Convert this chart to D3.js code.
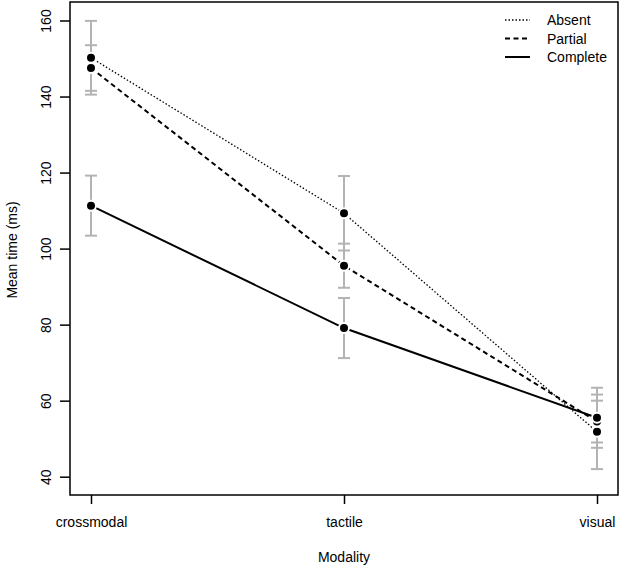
<!DOCTYPE html>
<html><head><meta charset="utf-8">
<script src="https://cdn.jsdelivr.net/npm/d3@7"></script>
<style>body{margin:0;background:#fff}svg{display:block;font-family:"Liberation Sans",Arial,sans-serif}</style>
</head><body>
<svg id="c" width="620" height="569"></svg>
<script>
const categories = ["crossmodal","tactile","visual"];
const seriesNames = ["Absent","Partial","Complete"];
const absentMean = [150.2,109.3,51.8];
const absentSE   = [9.7,9.8,9.8];
const partialMean = [147.5,95.5,54.5];
const partialSE   = [6.0,5.8,5.5];
const completeMean = [111.3,79.1,55.5];
const completeSE   = [7.9,7.9,7.9];
const yTicks = [40,60,80,100,120,140,160];

const series = [
  {name:"Absent", mean:absentMean, se:absentSE, dash:"1.5,2", width:1.3},
  {name:"Partial", mean:partialMean, se:partialSE, dash:"5,3.5", width:2},
  {name:"Complete", mean:completeMean, se:completeSE, dash:null, width:2}
];

const svg = d3.select("#c");
const L=70, R=618, T=2, B=495;
const x = d3.scalePoint().domain(categories).range([91,597]);
const y = d3.scaleLinear().domain([40,160]).range([476.7,20.5]);

svg.append("rect").attr("x",L).attr("y",T).attr("width",R-L).attr("height",B-T)
  .attr("fill","none").attr("stroke","#000").attr("stroke-width",1.5);

const ya = svg.append("g").attr("transform",`translate(${L},0)`)
  .call(d3.axisLeft(y).tickValues(yTicks).tickSize(10).tickSizeOuter(0));
ya.select(".domain").remove();
ya.selectAll("line").attr("stroke-width",1.5);
ya.selectAll("text").attr("font-size",14).attr("fill","#000")
  .attr("x",0).attr("y",0).attr("dy",null)
  .attr("text-anchor","middle")
  .attr("transform","translate(-19,0) rotate(-90)");

const xa = svg.append("g").attr("transform",`translate(0,${B})`)
  .call(d3.axisBottom(x).tickSize(9).tickSizeOuter(0));
xa.select(".domain").remove();
xa.selectAll("line").attr("stroke-width",1.5);
xa.selectAll("text").attr("font-size",14).attr("fill","#000").attr("y",22);

svg.append("text").attr("x",344).attr("y",562).attr("text-anchor","middle").attr("font-size",14).text("Modality");
svg.append("text").attr("transform","translate(17,250) rotate(-90)").attr("text-anchor","middle").attr("font-size",14).text("Mean time (ms)");

// error bars
const eb = svg.append("g").attr("stroke","#b3b3b3").attr("stroke-width",2);
series.forEach(s=>{
  categories.forEach((c,i)=>{
    const cx=x(c), lo=y(s.mean[i]-s.se[i]), hi=y(s.mean[i]+s.se[i]);
    eb.append("line").attr("x1",cx).attr("x2",cx).attr("y1",lo).attr("y2",hi);
    eb.append("line").attr("x1",cx-6).attr("x2",cx+6).attr("y1",lo).attr("y2",lo);
    eb.append("line").attr("x1",cx-6).attr("x2",cx+6).attr("y1",hi).attr("y2",hi);
  });
});

// lines
const line = d3.line().x((d,i)=>x(categories[i])).y(d=>y(d));
series.forEach(s=>{
  svg.append("path").attr("d",line(s.mean)).attr("fill","none").attr("stroke","#000")
    .attr("stroke-width",s.width).attr("stroke-dasharray",s.dash);
});
// points
series.forEach(s=>{
  svg.append("g").selectAll("circle").data(s.mean).join("circle")
    .attr("cx",(d,i)=>x(categories[i])).attr("cy",d=>y(d)).attr("r",5)
    .attr("fill","#000").attr("stroke","#fff").attr("stroke-width",2);
});

// legend
const lg = svg.append("g");
series.forEach((s,i)=>{
  const ly = 20 + i*18.5;
  lg.append("line").attr("x1",505).attr("x2",530).attr("y1",ly).attr("y2",ly)
    .attr("stroke","#000").attr("stroke-width",s.width).attr("stroke-dasharray",s.dash);
  lg.append("text").attr("x",547).attr("y",ly+5).attr("font-size",14).text(s.name);
});
</script>
</body></html>
